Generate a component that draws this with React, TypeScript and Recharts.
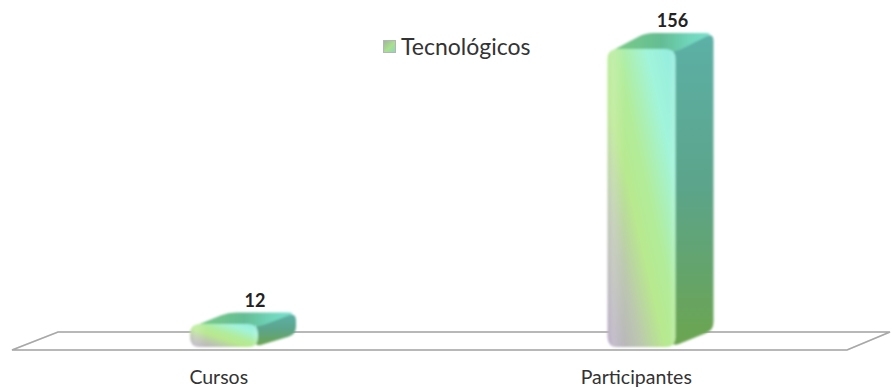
import React from "react";
import { BarChart, Bar, XAxis, YAxis, Legend, LabelList, usePlotArea } from "recharts";

const categories = ["Cursos", "Participantes"];
const seriesName = "Tecnológicos";
const values = [12, 156];
const rows = categories.map((name, i) => ({ name, value: values[i] }));

type P = [number, number];
function rounded(points: P[], r: number): string {
  const n = points.length;
  let d = "";
  points.forEach((p, i) => {
    const a = points[(i + n - 1) % n];
    const b = points[(i + 1) % n];
    const la = Math.hypot(a[0] - p[0], a[1] - p[1]);
    const lb = Math.hypot(b[0] - p[0], b[1] - p[1]);
    const ra = Math.min(r, la / 2) / la;
    const rb = Math.min(r, lb / 2) / lb;
    const s: P = [p[0] + (a[0] - p[0]) * ra, p[1] + (a[1] - p[1]) * ra];
    const e: P = [p[0] + (b[0] - p[0]) * rb, p[1] + (b[1] - p[1]) * rb];
    d += `${i === 0 ? "M" : "L"}${s[0]},${s[1]} Q${p[0]},${p[1]} ${e[0]},${e[1]} `;
  });
  return d + "Z";
}

const DX = 38;
const depth = (h: number) => Math.min(16, h * 0.5);

function Bar3D(props: any) {
  const { x, y, width: w, height: h, index } = props;
  const dy = depth(h);
  const id = `bar${index}`;
  const r = Math.min(10, h / 2.2);
  const front = rounded([[x, y], [x + w, y], [x + w, y + h], [x, y + h]], r);
  const topFace = rounded([[x + 2, y + 3], [x + DX, y - dy], [x + w + DX, y - dy], [x + w, y + 3]], 8);
  const side = rounded([[x + w - 4, y + 1], [x + w + DX, y - dy], [x + w + DX, y + h - dy - 1], [x + w - 4, y + h]], 8);
  return (
    <g>
      <defs>
        <linearGradient id={`${id}d`} x1="0" y1="1" x2="1" y2="0">
          <stop offset="0" stopColor="#b6a8c4" />
          <stop offset="0.24" stopColor="#bcc6b0" />
          <stop offset="0.42" stopColor="#b8e88e" />
          <stop offset="0.56" stopColor="#b2ec9a" />
          <stop offset="0.78" stopColor="#a2f4da" />
          <stop offset="1" stopColor="#92ece0" />
        </linearGradient>
        <linearGradient id={`${id}e`} x1="0" y1="0" x2="1" y2="0">
          <stop offset="0" stopColor="#fff" stopOpacity="0.05" />
          <stop offset="0.08" stopColor="#fff" stopOpacity="0.2" />
          <stop offset="0.25" stopColor="#fff" stopOpacity="0" />
          <stop offset="0.9" stopColor="#fff" stopOpacity="0" />
          <stop offset="1" stopColor="#fff" stopOpacity="0.18" />
        </linearGradient>
        <linearGradient id={`${id}t`} x1="0" y1="0" x2="1" y2="0">
          <stop offset="0" stopColor="#7ccb86" />
          <stop offset="0.5" stopColor="#64bd94" />
          <stop offset="0.8" stopColor="#70d6bc" />
          <stop offset="1" stopColor="#78dfca" />
        </linearGradient>
        <linearGradient id={`${id}s`} x1="0" y1="0" x2="0" y2="1">
          <stop offset="0" stopColor="#5bb0a6" />
          <stop offset="0.5" stopColor="#5ca48a" />
          <stop offset="1" stopColor="#6ca550" />
        </linearGradient>
        <filter id={`${id}soft`} x="-10%" y="-10%" width="120%" height="120%">
          <feGaussianBlur stdDeviation="1" />
        </filter>
      </defs>
      <g filter={`url(#${id}soft)`}>
        <path d={side} fill={`url(#${id}s)`} />
        <path d={topFace} fill={`url(#${id}t)`} />
        <path d={front} fill={`url(#${id}d)`} />
        <path d={front} fill={`url(#${id}e)`} />
      </g>
    </g>
  );
}

function ValueLabel(props: any) {
  const { x, y, width: w, height: h, value } = props;
  return (
    <text
      x={x + w / 2 + 31}
      y={y - depth(h) - 13}
      textAnchor="middle"
      dominantBaseline="central"
      fontSize={18}
      fontWeight={700}
      fill="#222"
    >
      {value}
    </text>
  );
}

function FloorShape({ overlay }: { overlay?: boolean }) {
  const p = usePlotArea();
  if (!p) return null;
  const bottom = p.y + p.height + 3;
  const top = bottom - 18;
  const left = p.x - 3;
  const right = p.x + p.width - 3;
  return (
    <polygon
      points={`${left},${bottom} ${left + 46},${top} ${right + 43},${top} ${right},${bottom}`}
      fill={overlay ? "none" : "#fff"}
      stroke="#a8a8a8"
      strokeOpacity={overlay ? 0.25 : 1}
      strokeWidth={1.5}
    />
  );
}

function LegendContent() {
  return (
    <div style={{ display: "flex", alignItems: "center", fontFamily: "Lato", fontSize: 23, color: "#333", whiteSpace: "nowrap" }}>
      <span style={{ width: 13, height: 13, marginRight: 5, background: "linear-gradient(135deg,#9fb89a,#a9e08f 55%,#8fd8b8)", border: "1px solid #b5b5b5", boxSizing: "border-box" }} />
      {seriesName}
    </div>
  );
}

export default function App() {
  return (
    <div style={{ width: 892, height: 390, background: "#fff" }}>
      <style>{`html,body{margin:0;padding:0;overflow:hidden}`}</style>
      <BarChart
        width={892}
        height={390}
        data={rows}
        margin={{ top: 49, right: 42, bottom: 13, left: 15 }}
        barSize={68}
        style={{ fontFamily: "Lato" }}
      >
        <FloorShape />
        <XAxis
          dataKey="name"
          axisLine={false}
          tickLine={false}
          interval={0}
          tickMargin={17}
          dx={-5}
          tick={{ fontSize: 19.5, fill: "#333", fontFamily: "Lato" }}
        />
        <YAxis hide domain={[0, 156]} />
        <Legend
          layout="horizontal"
          verticalAlign="middle"
          align="center"
          content={<LegendContent />}
          wrapperStyle={{ left: 383, top: 32, width: "auto", right: "auto", bottom: "auto" }}
        />
        <Bar dataKey="value" name={seriesName} isAnimationActive={false} shape={<Bar3D />}>
          <LabelList dataKey="value" content={<ValueLabel />} />
        </Bar>
        <FloorShape overlay />
      </BarChart>
    </div>
  );
}
